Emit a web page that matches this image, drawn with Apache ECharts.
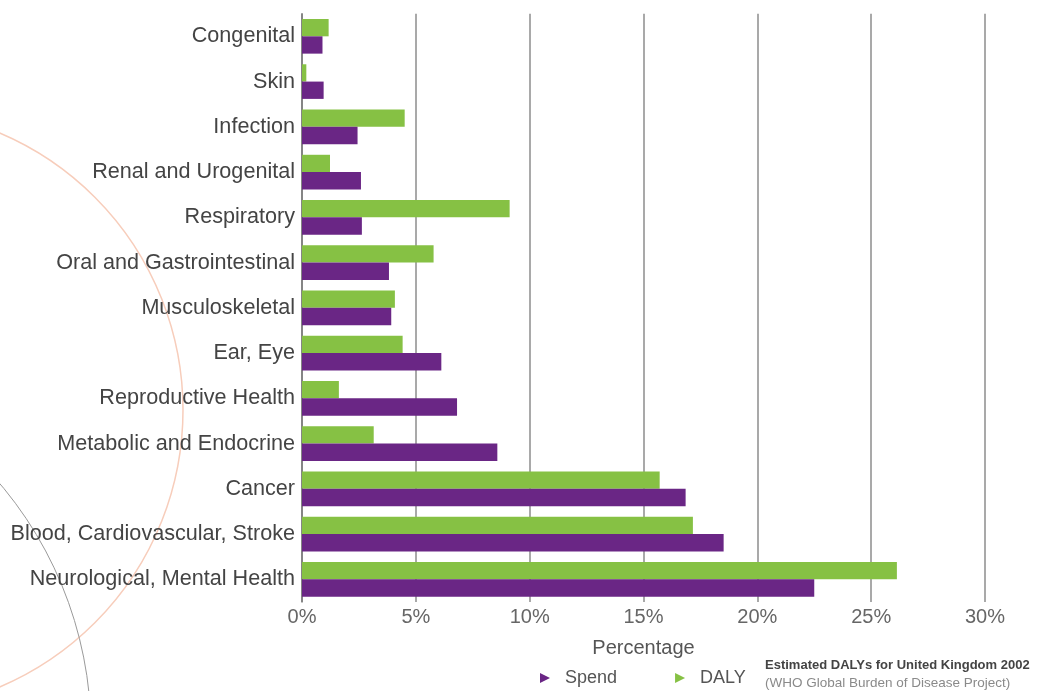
<!DOCTYPE html>
<html>
<head>
<meta charset="utf-8">
<script src="https://cdn.jsdelivr.net/npm/echarts@6/dist/echarts.min.js"></script>
<style>
html,body{margin:0;padding:0;background:#fff;}
#main{width:1038px;height:691px;}
</style>
</head>
<body>
<div id="main"></div>
<script>
const categories = ['Congenital','Skin','Infection','Renal and Urogenital','Respiratory','Oral and Gastrointestinal','Musculoskeletal','Ear, Eye','Reproductive Health','Metabolic and Endocrine','Cancer','Blood, Cardiovascular, Stroke','Neurological, Mental Health'];
const dalyValues = [1.17,0.19,4.51,1.23,9.12,5.78,4.08,4.42,1.62,3.15,15.71,17.17,26.13];
const spendValues = [0.90,0.95,2.44,2.59,2.63,3.82,3.92,6.12,6.81,8.58,16.85,18.52,22.50];
const xMin = 0, xMax = 30, xStep = 5;
const axisName = 'Percentage';
const captionLine1 = 'Estimated DALYs for United Kingdom 2002';
const captionLine2 = '(WHO Global Burden of Disease Project)';

const FONT = '"Liberation Sans", Arial, sans-serif';
const GREEN = '#86C144';
const PURPLE = '#6A2685';
const tri = 'path://M0,0 L10,5 L0,10 Z';

const chart = echarts.init(document.getElementById('main'), null, {renderer:'canvas'});
chart.setOption({
  backgroundColor: '#ffffff',
  animation: false,
  textStyle: {fontFamily: FONT},
  graphic: [
    {type:'circle', z:-10, silent:true, shape:{cx:-118, cy:410, r:301}, style:{fill:'none', stroke:'#F7CDBB', lineWidth:1.5}},
    {type:'circle', z:-10, silent:true, shape:{cx:-293, cy:732, r:384}, style:{fill:'none', stroke:'#9a9a9a', lineWidth:1}},
    {type:'text', left:765, top:659, style:{text:captionLine1, font:'bold 13px ' + FONT, fill:'#444'}},
    {type:'text', left:765, top:676, style:{text:captionLine2, font:'13.5px ' + FONT, fill:'#8a8a8a'}}
  ],
  legend: {
    data: ['Spend','DALY'],
    left: 535, top: 664,
    itemWidth: 10, itemHeight: 11,
    itemGap: 58,
    icon: tri,
    textStyle: {fontSize: 18, color:'#555', fontFamily: FONT, padding:[0,0,0,10]}
  },
  grid: {left: 302, right: 53, top: 13.7, bottom: 89, containLabel: false},
  xAxis: {
    type: 'value', min: xMin, max: xMax, interval: xStep,
    name: axisName, nameLocation: 'middle', nameGap: 36,
    nameTextStyle: {fontSize: 20, color:'#555', fontFamily: FONT},
    axisLine: {show:false},
    axisTick: {show:false},
    axisLabel: {formatter: '{value}%', fontSize: 20, color:'#666', margin: 5, fontFamily: FONT},
    splitLine: {show:true, lineStyle:{color:'#8c8c8c', width:1.5}}
  },
  yAxis: {
    type: 'category', data: categories, inverse: true,
    axisLine: {show:true, lineStyle:{color:'#7a7a7a', width:1.5}},
    axisTick: {show:false},
    axisLabel: {fontSize: 21.6, color:'#444', margin: 7, fontFamily: FONT}
  },
  series: [
    {name:'DALY', type:'bar', data: dalyValues, itemStyle:{color:GREEN}, barGap:'0%', barCategoryGap:'23.5%', z:3},
    {name:'Spend', type:'bar', data: spendValues, itemStyle:{color:PURPLE}, barGap:'0%', barCategoryGap:'23.5%', z:3}
  ]
});
</script>
</body>
</html>
